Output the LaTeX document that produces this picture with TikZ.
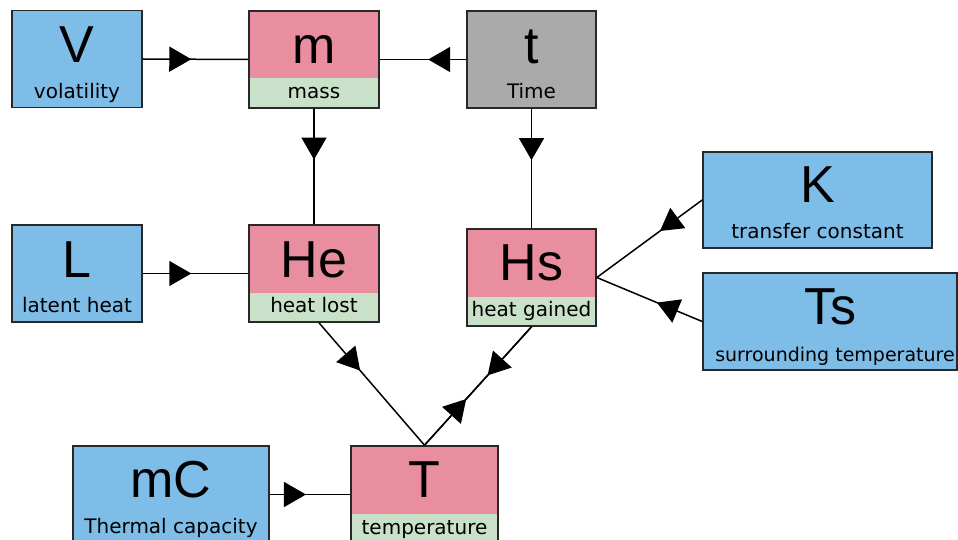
\documentclass[tikz,border=0pt]{standalone}
\usepackage{fontspec}
\setmainfont{Liberation Sans}
\newfontfamily\labelfont{DejaVu Sans}
\usetikzlibrary{arrows.meta,decorations.markings}
\definecolor{boxblue}{RGB}{125,189,232}
\definecolor{boxpink}{RGB}{232,142,158}
\definecolor{boxgreen}{RGB}{200,225,200}
\definecolor{boxgrey}{RGB}{170,170,170}
\definecolor{edge}{RGB}{40,40,40}
\tikzset{
  basebox/.style={draw=edge, line width=1.6pt, inner sep=0pt},
  bluebox/.style={basebox, fill=boxblue},
  greybox/.style={basebox, fill=boxgrey},
  pinkbox/.style={basebox, fill=boxpink,
    path picture={\fill[boxgreen] ([yshift=29.5pt]path picture bounding box.south west) rectangle (path picture bounding box.south east);}},
  bigtxt/.style={anchor=base, inner sep=0pt, font=\fontsize{52}{56}\selectfont},
  smalltxt/.style={anchor=base, inner sep=0pt, font=\labelfont\fontsize{20}{22}\selectfont},
  conn/.style={line width=1.5pt, black},
  midarr/.style={conn, postaction={decorate}, decoration={markings,
    mark=at position #1 with {\arrow{Triangle[length=22pt,width=25pt]}}}}
}
\begin{document}
\begin{tikzpicture}[x=1pt,y=-1pt]
\useasboundingbox (0,0) rectangle (958,540);
% boxes
\node[bluebox, minimum width=130pt, minimum height=97pt] (V) at (77,59) {};
\node[pinkbox, minimum width=130pt, minimum height=97pt] (m) at (314,59.5) {};
\node[greybox, minimum width=129pt, minimum height=97pt] (t) at (531.5,59.5) {};
\node[bluebox, minimum width=130pt, minimum height=97pt] (L) at (77,273.5) {};
\node[pinkbox, minimum width=130pt, minimum height=97pt] (He) at (314,273.5) {};
\node[pinkbox, minimum width=129pt, minimum height=97pt] (Hs) at (531.5,277.5) {};
\node[bluebox, minimum width=229pt, minimum height=96pt] (K) at (817.5,200) {};
\node[bluebox, minimum width=254pt, minimum height=97pt] (Ts) at (830,321.5) {};
\node[bluebox, minimum width=196pt, minimum height=97pt] (mC) at (171,494.5) {};
\node[pinkbox, minimum width=147pt, minimum height=97pt] (T) at (424.5,494.5) {};
% texts
\node[bigtxt] (Vb) at ([yshift=-53pt]V.north) {V};
\node[smalltxt] (Vs) at ([yshift=-89pt]V.north) {volatility};
\node[bigtxt] (mb) at ([yshift=-53pt]m.north) {m};
\node[smalltxt] (ms) at ([yshift=-88pt]m.north) {mass};
\node[bigtxt] (tb) at ([yshift=-53pt]t.north) {t};
\node[smalltxt] (ts) at ([yshift=-88pt]t.north) {Time};
\node[bigtxt] (Lb) at ([yshift=-53pt]L.north) {L};
\node[smalltxt] (Ls) at ([yshift=-88pt]L.north) {latent heat};
\node[bigtxt] (Heb) at ([yshift=-53pt]He.north) {He};
\node[smalltxt] (Hes) at ([yshift=-88pt]He.north) {heat lost};
\node[bigtxt] (Hsb) at ([yshift=-52pt]Hs.north) {Hs};
\node[smalltxt] (Hss) at ([yshift=-88pt]Hs.north) {heat gained};
\node[bigtxt] (Kb) at ([yshift=-51pt]K.north) {K};
\node[smalltxt] (Ks) at ([yshift=-87pt]K.north) {transfer constant};
\node[bigtxt] (Tsb) at ([yshift=-52pt]Ts.north) {Ts};
\node[smalltxt, font=\labelfont\fontsize{19}{21}\selectfont] (Tss) at ([xshift=5pt,yshift=-89pt]Ts.north) {surrounding temperature};
\node[bigtxt] (mCb) at ([yshift=-52pt]mC.north) {mC};
\node[smalltxt] (mCs) at ([yshift=-88pt]mC.north) {Thermal capacity};
\node[bigtxt] (Tb) at ([yshift=-52pt]T.north) {T};
\node[smalltxt] (Tts) at ([yshift=-89pt]T.north) {temperature};
% connectors
\draw[midarr=0.46] (V.east) -- (m.west);
\draw[midarr=0.44] (t.west) -- (m.east);
\draw[midarr=0.44] (m.south) -- (He.north);
\draw[midarr=0.43] (t.south) -- (Hs.north);
\draw[midarr=0.46] (L.east) -- (He.west);
\draw[midarr=0.40] (K.west) -- (Hs.east);
\draw[midarr=0.43] (Ts.west) -- (Hs.east);
\draw[midarr=0.39] ([xshift=5pt]He.south) -- (T.north);
\draw[midarr=0.41] (Hs.south) -- (T.north);
\draw[midarr=0.39] (T.north) -- (Hs.south);
\draw[midarr=0.45] (mC.east) -- (T.west);
\end{tikzpicture}
\end{document}
